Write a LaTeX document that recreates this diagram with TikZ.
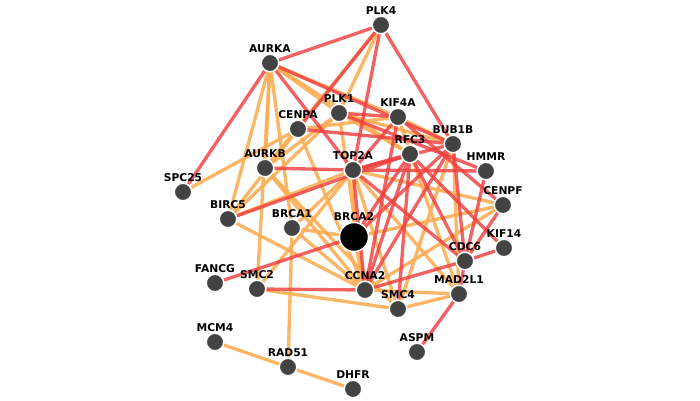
\documentclass[tikz,border=0pt]{standalone}
\usepackage{fontspec}
\usepackage{tikz}
\usetikzlibrary{backgrounds}
\newfontfamily\genefont{DejaVu Sans}
\definecolor{GeneGray}{HTML}{434343}
\definecolor{LinkRed}{HTML}{EF4040}
\definecolor{LinkOrange}{HTML}{FDAE55}

\begin{document}
\begin{tikzpicture}[x=0.02cm,y=-0.02cm,
    gene/.style={circle,fill=GeneGray,draw=white,line width=0.8pt,
                 minimum size=0.35cm,inner sep=0pt},
    hub/.style={gene,fill=black,minimum size=0.58cm},
    glabel/.style={font=\genefont\bfseries\fontsize{6.1}{7}\selectfont,
                   inner sep=0.4pt,text=black},
    redge/.style={LinkRed,line width=1.9pt,opacity=0.82},
    oedge/.style={LinkOrange,line width=1.9pt,opacity=0.9}]
  \useasboundingbox (0,0) rectangle (700,400);

  % genes
  \node[gene,label={[glabel]above:PLK4}]   (plk4)   at (381, 25) {};
  \node[gene,label={[glabel]above:AURKA}]  (aurka)  at (270, 63) {};
  \node[gene,label={[glabel]above:PLK1}]   (plk1)   at (339,113) {};
  \node[gene,label={[glabel]above:KIF4A}]  (kif4a)  at (398,117) {};
  \node[gene,label={[glabel]above:CENPA}]  (cenpa)  at (298,129) {};
  \node[gene,label={[glabel]above:BUB1B}]  (bub1b)  at (453,144) {};
  \node[gene,label={[glabel]above:RFC3}]   (rfc3)   at (410,154) {};
  \node[gene,label={[glabel]above:TOP2A}]  (top2a)  at (353,170) {};
  \node[gene,label={[glabel]above:AURKB}]  (aurkb)  at (265,168) {};
  \node[gene,label={[glabel]above:HMMR}]   (hmmr)   at (486,171) {};
  \node[gene,label={[glabel]above:SPC25}]  (spc25)  at (183,192) {};
  \node[gene,label={[glabel]above:CENPF}]  (cenpf)  at (503,205) {};
  \node[gene,label={[glabel]above:BIRC5}]  (birc5)  at (228,219) {};
  \node[gene,label={[glabel]above:BRCA1}]  (brca1)  at (292,228) {};
  \node[hub, label={[glabel]above:BRCA2}]  (brca2)  at (354,237) {};
  \node[gene,label={[glabel]above:KIF14}]  (kif14)  at (504,248) {};
  \node[gene,label={[glabel]above:CDC6}]   (cdc6)   at (465,261) {};
  \node[gene,label={[glabel]above:FANCG}]  (fancg)  at (215,283) {};
  \node[gene,label={[glabel]above:SMC2}]   (smc2)   at (257,289) {};
  \node[gene,label={[glabel]above:CCNA2}]  (ccna2)  at (365,290) {};
  \node[gene,label={[glabel]above:MAD2L1}] (mad2l1) at (459,294) {};
  \node[gene,label={[glabel]above:SMC4}]   (smc4)   at (398,309) {};
  \node[gene,label={[glabel]above:MCM4}]   (mcm4)   at (215,342) {};
  \node[gene,label={[glabel]above:ASPM}]   (aspm)   at (417,352) {};
  \node[gene,label={[glabel]above:RAD51}]  (rad51)  at (288,367) {};
  \node[gene,label={[glabel]above:DHFR}]   (dhfr)   at (353,389) {};

  % links
  \begin{scope}[on background layer]
    \foreach \a/\b in {aurka/aurkb,aurka/birc5,aurka/smc2,aurka/brca1,
        aurka/kif4a,aurka/rfc3,aurka/plk1,plk4/aurkb,plk4/plk1,
        spc25/cenpa,cenpa/birc5,cenpa/kif4a,cenpa/ccna2,plk1/birc5,
        plk1/aurkb,plk1/bub1b,plk1/ccna2,plk1/rfc3,aurkb/ccna2,
        aurkb/smc4,birc5/ccna2,birc5/top2a,brca1/top2a,brca1/brca2,
        brca1/rad51,brca1/ccna2,smc2/top2a,smc2/smc4,top2a/brca2,
        top2a/mad2l1,top2a/cenpf,top2a/smc4,brca2/ccna2,brca2/cenpf,
        ccna2/mad2l1,ccna2/cenpf,smc4/mad2l1,bub1b/mad2l1,bub1b/smc4,
        kif4a/bub1b,kif4a/mad2l1,mcm4/rad51,rad51/dhfr}
      \draw[oedge] (\a) -- (\b);
    \foreach \a/\b in {aurka/plk4,aurka/spc25,aurka/top2a,aurka/bub1b,
        plk4/cenpa,plk4/top2a,plk4/bub1b,cenpa/bub1b,plk1/hmmr,
        plk1/kif4a,aurkb/top2a,birc5/rfc3,top2a/rfc3,top2a/bub1b,
        top2a/hmmr,top2a/cdc6,top2a/ccna2,kif4a/top2a,kif4a/ccna2,
        kif4a/cenpf,rfc3/brca2,rfc3/ccna2,rfc3/smc4,rfc3/kif14,
        rfc3/cdc6,bub1b/ccna2,bub1b/brca2,bub1b/cdc6,hmmr/cdc6,
        cenpf/cdc6,kif14/cdc6,cdc6/ccna2,mad2l1/cdc6,mad2l1/aspm,
        brca2/fancg,smc2/ccna2}
      \draw[redge] (\a) -- (\b);
  \end{scope}
\end{tikzpicture}
\end{document}
